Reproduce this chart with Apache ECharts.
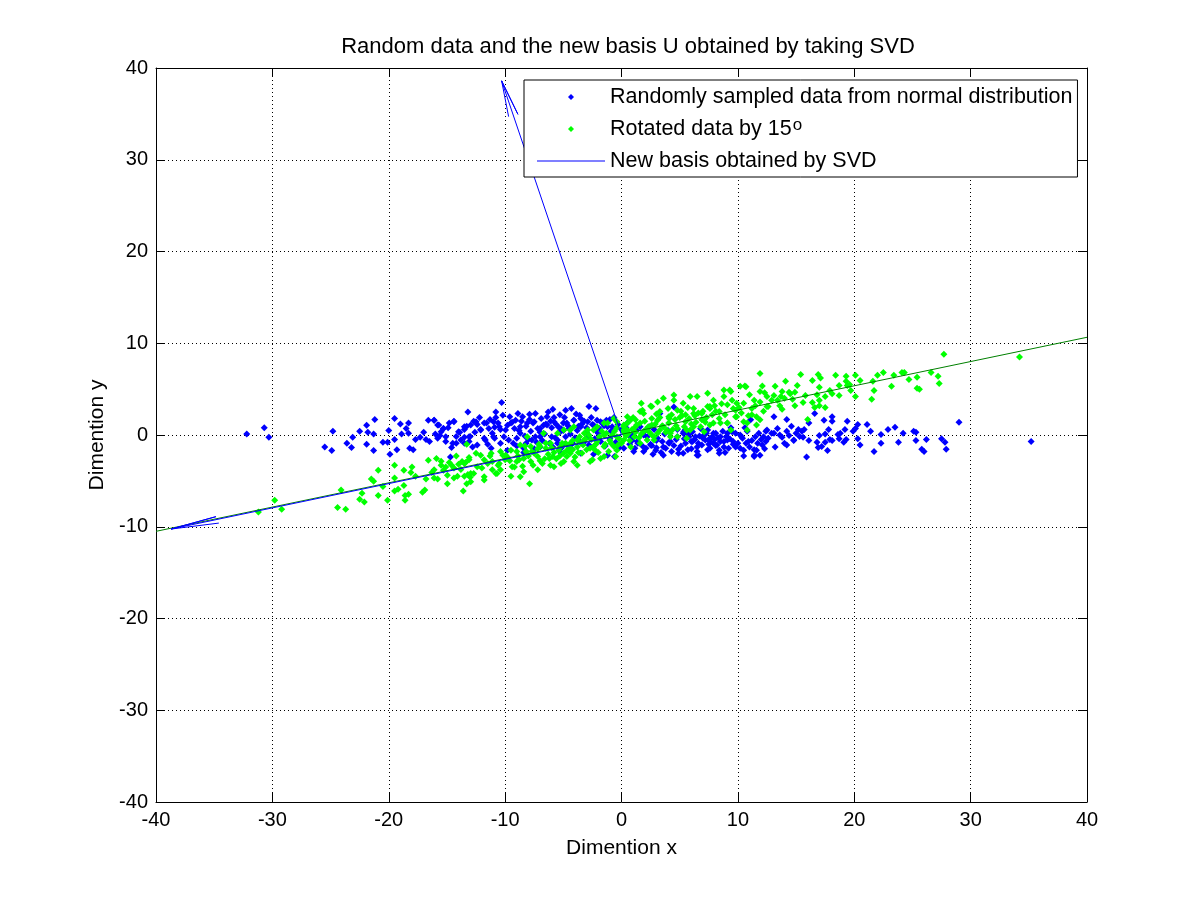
<!DOCTYPE html>
<html>
<head>
<meta charset="utf-8">
<script src="https://cdn.jsdelivr.net/npm/echarts/dist/echarts.min.js"></script>
<style>
  html, body { margin: 0; padding: 0; background: #fff; }
  #chart { width: 1201px; height: 901px; }
</style>
</head>
<body>
<div id="chart"></div>
<script>
// values
const axisTicks = [-40, -30, -20, -10, 0, 10, 20, 30, 40];

const blueData = [
  [-32.2, 0.1], [-30.7, 0.8], [-30.3, -0.25], [-25.5, -1.3], [-24.9, -1.7], [-24.8, 0.4],
  [-23.6, -0.9], [-23.2, -1.35], [-23.1, -0.25], [-22.5, 0.4], [-21.9, 1.05], [-21.8, 0.3],
  [-21.9, -1.0], [-21.3, -1.7], [-21.3, 0.1], [-21.2, 1.7], [-20.5, -0.8], [-20.1, -0.8],
  [-20.0, 0.5], [-19.9, -2.1], [-19.5, 1.8], [-19.5, -0.5], [-19.3, -1.6], [-19.0, 1.2],
  [-18.9, 0.1], [-18.5, 0.7], [-18.3, 1.3], [-18.3, 0.2], [-18.2, -1.45], [-17.9, -1.6],
  [-17.7, -0.5], [-17.3, -0.25], [-17.0, 0.3], [-16.8, -0.5], [-16.6, 1.6], [-16.5, -0.7],
  [-16.1, 1.6], [-16.0, 0.1], [-15.8, 1.1], [-15.6, -0.05], [-15.3, 0.7], [-15.1, -0.7],
  [-14.9, 0.8], [-14.7, -2.4], [-14.6, -1.35], [-14.4, 1.5], [-14.2, -0.15], [-14.2, -0.9],
  [-13.9, 0.3], [-13.5, 0.6], [-13.5, -0.25], [-13.2, 2.5], [-13.1, -0.7],
  [-10.3, 3.55], [-10.8, 2.5], [-10.2, 2.15], [-8.9, 2.35], [-8.5, 2.0], [-7.9, 2.25],
  [-7.4, 2.35], [-6.3, 2.5], [-5.8, 1.9], [-4.8, 2.7], [-4.3, 2.9], [-2.8, 3.1], [-2.2, 2.9],
  [-3.6, 2.15], [-13.3, 0.95], [-12.7, 1.5], [-12.6, 0.3], [-12.4, 1.15], [-12.1, 0.6],
  [-11.6, 1.3], [-11.3, 1.7], [-11.1, 0.2], [-10.9, 0.85], [-10.6, 1.3], [-10.4, 0.6],
  [-9.8, 1.05], [-9.4, 1.4], [-9.2, 0.7], [-8.7, 0.2], [-8.2, 0.95], [-7.6, 1.3], [-7.2, 0.7],
  [-6.7, 1.05], [-6.1, 1.5], [-5.6, 1.15], [-5.4, 0.85], [-5.0, 1.3], [-4.5, 0.7], [-4.1, 1.6],
  [-3.7, 0.95], [-3.2, 1.5], [-2.5, 1.15], [-2.1, 1.6], [-1.6, 1.3], [-1.0, 1.7], [-0.65, 1.9],
  [-0.3, 1.15], [1.0, 0.2], [1.15, -1.45], [1.4, -0.9], [2.1, -1.45], [2.6, -1.15], [3.3, 2.35],
  [3.5, -0.7], [3.8, -1.45], [4.1, -0.9], [4.5, -1.15], [4.9, -2.0], [5.3, 0.2], [5.5, 0.6],
  [5.9, 0.2], [6.0, -0.7], [6.5, -2.2], [6.6, -0.9], [7.0, -0.35], [7.4, -1.6], [7.6, -0.7],
  [7.9, 0.2], [8.1, -1.15], [8.4, -2.0], [8.8, -0.7], [9.2, -1.45], [9.6, -1.0], [9.8, 0.2],
  [10.2, -1.45], [10.5, -2.3], [10.7, -0.9], [10.8, 0.4], [11.4, -2.2], [11.4, -1.6],
  [11.9, -2.2], [12.0, -0.5], [12.4, 0.4], [12.9, 0.2], [-13.5, -0.9], [-13.0, -0.15],
  [-11.8, -0.35], [-10.9, -0.35],
  [0.2, -1.45], [1.05, -1.8], [2.7, -2.1], [2.95, -1.65], [4.05, -0.85], [4.5, 3.05],
  [4.9, -1.55], [5.3, -2.0], [5.6, 0.2], [6.1, 0.35], [6.35, -0.2], [6.6, -2.2], [7.2, -0.55],
  [7.6, -1.45], [8.2, -1.1], [8.5, -0.2], [9.1, 0.2], [9.6, -0.7], [10.4, -0.35], [10.5, -1.65],
  [11.1, 1.65], [11.4, -2.35], [11.6, -1.65], [12.2, -0.2], [12.5, 0.55],
  [5.35, 0.35], [5.8, -0.2], [6.1, -0.7], [6.8, 0.7], [7.4, 0.55], [7.8, -0.2], [8.1, 0.2],
  [8.5, -0.7], [8.8, -1.3], [9.1, -0.55], [9.5, 0.35], [7.9, -0.9],
  [-8.0, -0.5], [-7.0, 0.3], [-6.0, -0.2], [-5.0, 0.5], [-4.0, -0.3], [-3.0, 0.8], [-2.0, 0.2],
  [-1.0, -0.4], [0.0, 0.6], [1.0, -0.2], [2.0, 0.4], [3.0, -0.6], [-6.5, 1.2], [-3.5, 1.8],
  [-1.5, 1.0], [0.5, 1.3], [2.5, -1.0], [-9.0, -1.2], [-7.5, -1.5], [-5.5, -0.9],
  [-5.9, 2.8], [-3.5, -2.0], [-2.4, -2.1], [-1.2, -2.2], [-0.6, -2.35], [-5.2, -2.0],
  [-16.1, 1.6], [-15.7, 1.1], [-15.3, 0.7], [-14.8, 1.3], [-14.4, 1.45], [-14.0, 0.35],
  [-13.5, 0.9], [-12.96, 1.1], [-12.5, 1.45], [-12.1, 0.55], [-11.8, 1.3], [-11.4, 0.7],
  [-11.0, 1.45], [-10.5, 0.9], [-9.96, 0.55], [-9.5, 1.3], [-9.1, 1.6], [-8.7, 0.9],
  [-8.1, 1.3], [-7.5, 1.45], [-7.0, 0.7], [-6.4, 1.1], [-5.8, 1.45], [-5.2, 0.7], [-4.7, 1.3],
  [-4.1, 1.6], [-3.5, 0.9], [-2.9, 1.45], [-2.4, 1.1], [-1.8, 1.45], [-1.2, 0.9],
  [-15.8, -0.35], [-15.1, -0.2], [-14.5, -0.9], [-13.8, -0.55], [-13.1, -0.2], [-12.4, -1.1],
  [-11.7, -0.55], [-11.0, -0.2], [-10.4, -0.9], [-9.7, -0.55], [-9.0, -0.35], [-8.2, -0.9],
  [-7.7, -0.55], [-7.0, -0.2], [-6.2, -0.9], [-5.5, -0.55], [-4.8, -0.2], [-4.2, -0.9],
  [-3.7, -0.55], [-2.9, -0.2], [-15.5, 0.35], [-11.2, -1.45], [-9.8, -1.65], [-8.4, -1.45],
  [-7.0, -1.3], [-5.2, -1.45],
  [0.77, -0.2], [1.35, -0.7], [1.9, 0.0], [2.5, -1.1], [3.1, -0.35], [3.6, -1.3], [4.2, -0.7],
  [4.8, -0.2], [5.5, -0.9], [6.5, -1.3], [7.1, 0.0], [7.6, -0.35], [8.4, -1.65], [9.0, -0.2],
  [9.8, -1.3], [10.2, 0.0], [10.9, -0.7], [11.5, -0.2], [12.1, -1.1], [12.6, -0.35],
  [13.2, -1.3], [13.6, 0.0], [14.2, -1.1], [14.8, -0.55], [1.9, -1.8], [3.6, -2.2], [6.5, -1.8],
  [-12.8, -1.3], [-12.2, 1.9], [-11.5, -1.0], [-10.8, 1.9], [-10.1, -0.2], [-9.6, 2.0],
  [-9.3, -0.9], [-8.6, 1.5], [-8.3, -0.1], [-7.8, 0.4], [-7.3, -0.8], [-6.9, 1.8], [-6.6, 0.1],
  [-6.0, 0.8], [-5.7, -0.3], [-5.3, 2.2], [-4.9, -1.0], [-4.6, 1.0], [-4.4, 0.1], [-3.9, 2.3],
  [-3.3, -0.9], [-3.0, 0.3], [-2.6, 1.9], [-2.3, -0.4], [-1.9, 0.7], [-1.4, -1.2], [-0.9, 0.4],
  [-0.5, -0.8], [0.3, 0.1], [0.7, -1.0], [1.6, 0.9], [2.2, -0.2], [2.8, 0.6], [3.4, -1.9],
  [4.0, 0.5], [4.7, -0.5], [5.1, -1.2], [5.7, -1.6], [6.3, -0.5], [6.9, -1.1], [7.3, 0.2],
  [8.0, -0.5], [8.7, 0.4], [9.3, -0.4], [10.0, -0.9], [10.6, 0.8], [11.2, -0.6], [11.8, 0.2],
  [12.3, -1.5],
  [-8.8, 0.5], [-8.4, -1.9], [-7.9, 1.7], [-7.4, -0.2], [-6.8, -0.6], [-6.4, 2.0], [-5.9, -1.3],
  [-5.3, 0.3], [-4.9, 1.9], [-4.3, -1.5], [-3.8, 0.5], [-3.4, 1.2], [-2.8, -1.1], [-2.2, 0.5],
  [-1.8, -0.7], [-1.3, 1.6], [-0.8, 0.9], [-0.2, -1.4], [0.4, 0.8], [0.9, -0.6], [1.3, 0.5],
  [1.8, -1.2], [2.4, 0.9], [3.0, -1.4], [3.7, 0.1], [4.3, -1.8], [4.8, 0.6], [5.4, -0.4],
  [6.0, -1.5], [6.7, -0.1], [7.5, -1.0], [8.3, -0.3], [8.9, -1.9], [9.4, 0.8], [10.3, -0.2],
  [11.0, -1.3], [11.7, -0.9], [12.4, -0.7],
  [13.1, 2.0], [14.2, 1.7], [13.1, 0.2], [13.4, 0.7], [13.8, -0.25], [14.0, -0.9], [14.2, 0.4],
  [14.4, -0.05], [14.6, 0.95], [14.8, -0.6], [15.0, 0.2], [15.2, 0.6], [15.3, -0.15], [15.5, 0.4],
  [15.6, -0.25], [15.7, 0.6], [15.9, -2.4], [16.1, 1.3], [16.1, -0.6], [16.6, 2.35], [16.8, -0.8],
  [16.9, -1.35], [17.0, -0.05], [17.2, -1.25], [17.4, 1.6], [17.5, 0.1], [17.5, -0.8],
  [17.7, -1.7], [17.8, 0.6], [17.9, -0.5], [18.1, 2.0], [18.1, 1.5], [18.1, -0.6], [18.6, 0.05],
  [18.7, -0.4], [18.8, 0.2], [19.1, -0.8], [19.2, 0.6], [19.3, -0.5], [19.4, 1.5], [19.9, 0.4],
  [20.1, 0.7], [20.3, 1.15], [20.3, -0.4], [20.5, -1.1], [21.1, 1.15], [21.4, 0.4], [21.7, -1.8],
  [22.3, 0.05], [22.3, -0.9], [22.9, 0.6], [23.5, 0.85], [23.8, -0.8], [24.2, 0.2], [25.1, 0.4],
  [25.3, 0.3], [25.3, -0.6], [25.8, -1.55], [26.0, -1.8], [26.2, -0.5], [27.5, -0.4],
  [27.8, -0.8], [27.9, -1.55], [29.0, 1.4], [35.2, -0.7]
];

const greenData = [
  [-31.2, -8.4], [-29.8, -7.1], [-29.2, -8.1], [-24.4, -7.9], [-23.7, -8.1], [-24.1, -6.0],
  [-22.5, -7.0], [-22.3, -6.35], [-22.1, -7.3], [-21.5, -4.8], [-21.3, -5.05], [-20.9, -3.85],
  [-20.9, -6.6], [-20.5, -5.6], [-20.1, -7.1], [-19.5, -6.1], [-19.5, -3.3], [-19.5, -4.7],
  [-19.2, -5.9], [-18.7, -3.85], [-18.7, -5.5], [-18.6, -6.6], [-18.6, -7.1], [-18.3, -6.45],
  [-18.1, -4.1], [-18.0, -3.5], [-17.7, -4.5], [-17.1, -6.25], [-16.9, -6.0], [-16.8, -4.8],
  [-16.6, -2.75], [-16.3, -4.1], [-16.1, -4.7], [-15.9, -2.55], [-15.8, -4.8], [-15.5, -2.85],
  [-15.3, -3.85], [-15.1, -3.5], [-14.8, -3.0], [-14.6, -3.3], [-14.4, -4.7], [-14.2, -2.3],
  [-14.0, -3.2], [-13.8, -3.75], [-13.6, -6.1], [-13.5, -4.5], [-13.4, -3.0], [-13.2, -4.3],
  [-13.1, -2.45], [-13.3, -1.0],
  [-13.3, -5.3], [-13.0, -4.6], [-12.7, -4.2], [-13.5, -3.1], [-13.1, -2.7], [-12.5, -2.0],
  [-11.8, -4.55], [-11.5, -3.1], [-11.1, -2.9], [-10.8, -4.2], [-10.4, -3.8], [-10.0, -2.7],
  [-9.2, -3.5], [-8.7, -4.55], [-7.9, -5.3], [-8.4, -2.55], [-7.5, -2.0], [-6.8, -3.1],
  [-6.2, -2.55], [-5.8, -3.45], [-5.2, -3.1], [-4.7, -2.35], [-4.1, -2.9], [-3.4, -2.0],
  [-2.5, -2.7], [-1.8, -2.55], [-1.1, -1.8], [-0.5, -2.35], [-3.2, 0.2], [-2.4, 0.55],
  [-1.5, 1.3], [-0.65, 1.8], [0.2, 0.9], [0.8, 1.65], [1.8, 2.7], [2.6, 3.1], [3.6, 4.0],
  [4.5, 4.35], [5.3, 3.45], [6.2, 2.35], [6.5, 4.2], [7.4, 3.1], [7.9, 3.8], [8.8, 4.2],
  [9.3, 4.9], [9.9, 3.45], [10.7, 5.25], [11.4, 3.8], [12.1, 5.35], [12.5, 4.2], [11.6, 2.0],
  [10.8, 1.3], [9.9, 2.0], [9.1, 1.3], [7.9, 1.3], [6.8, 0.9], [5.9, 0.55], [4.8, -0.2],
  [3.9, 0.55], [3.1, 0.2], [2.2, -0.55], [1.1, -0.2], [0.2, -0.55], [-0.65, -1.25], [-1.5, -1.25],
  [-2.4, -1.25], [-3.5, -0.9], [-4.4, -0.9], [-5.2, -1.25], [-6.1, -0.9], [-7.0, -1.25],
  [-7.8, -1.25], [-8.7, -1.1], [-9.5, -1.65], [-10.4, -1.8], [-11.2, -2.0], [-12.1, -2.2],
  [-8.1, -0.2], [-6.7, 0.2], [-5.5, 0.2], [-4.4, 0.55], [-3.8, -0.55],
  [11.9, 6.7], [10.6, 5.35], [2.5, 3.15], [1.6, 2.55], [0.5, 1.3], [0.2, 0.35], [9.4, 4.75],
  [7.6, 2.9], [11.9, 4.75], [12.5, 3.1], [11.6, 1.1], [10.8, 0.55], [9.4, 0.55], [8.5, 1.3],
  [7.1, 1.65], [5.6, 0.55], [4.2, -0.2], [2.8, -0.55], [1.6, -0.9], [0.8, -1.3],
  [-7.2, -1.5], [-6.3, -2.1], [-5.1, -0.9], [-4.2, -1.6], [-3.1, -0.4], [-2.2, -1.0],
  [-1.3, 0.2], [-0.2, -0.4], [0.9, 0.6], [1.7, 0.1], [2.9, 1.2], [3.8, 0.3], [4.6, 1.7],
  [5.4, 0.9], [6.3, 2.1], [7.2, 1.4], [8.1, 2.6], [-0.4, 0.8], [0.4, -0.1], [1.3, 1.1],
  [2.3, 0.9], [3.3, 1.9], [4.3, 2.2], [5.1, 2.6], [6.0, 1.2], [-9.8, -2.4], [-9.0, -2.9],
  [-8.2, -1.8],
  [-16.1, -3.8], [-15.5, -3.3], [-14.96, -4.4], [-14.4, -3.6], [-13.7, -2.9], [-12.96, -4.2],
  [-12.4, -3.45], [-11.8, -2.7], [-11.1, -3.8], [-10.5, -3.1], [-9.96, -2.2], [-9.4, -3.45],
  [-8.8, -2.7], [-8.2, -1.8], [-7.8, -2.9], [-7.2, -2.35], [-6.5, -1.45], [-5.9, -2.35],
  [-5.4, -1.65], [-4.8, -0.9], [-4.4, -2.0], [-3.8, -1.3], [-3.2, -0.55], [-2.7, -1.45],
  [-2.1, -0.7], [-1.5, 0.0], [-0.9, -0.9], [-0.4, -0.2], [0.2, 0.55], [-4.95, 0.55],
  [-4.1, 0.9], [-2.9, 0.55], [-2.1, 0.9], [-1.2, 1.3], [-0.4, 1.45], [0.2, 1.1], [-0.4, -1.65],
  [-1.5, -2.35], [-2.7, -2.9], [-3.8, -3.3], [-4.95, -2.9], [-6.1, -3.3], [-7.2, -3.8],
  [-8.4, -4.0], [-9.5, -4.5], [-10.7, -4.2], [-11.8, -4.9], [-12.96, -5.1], [-14.1, -4.5],
  [-14.96, -5.3],
  [0.5, 2.0], [1.2, 1.65], [1.9, 2.35], [2.6, 1.8], [3.3, 2.55], [4.06, 2.0], [4.8, 2.7],
  [5.5, 2.2], [6.2, 2.9], [6.9, 2.35], [7.6, 3.1], [8.4, 2.55], [9.1, 3.3], [9.8, 2.7],
  [10.5, 3.45], [11.2, 2.9], [11.9, 3.6], [12.6, 3.1], [0.5, 0.55], [1.2, 0.9], [1.9, 0.35],
  [2.6, 1.1], [3.3, 0.55], [4.06, 1.3], [4.8, 0.7], [5.5, 1.45], [6.2, 0.9], [6.9, 1.65],
  [7.6, 1.1], [8.4, 1.8], [9.1, 1.3], [9.8, 2.0], [10.5, 1.45], [11.2, 2.2], [11.9, 1.65],
  [1.7, 3.45], [3.1, 3.6], [4.5, 3.8], [5.9, 4.2], [7.4, 4.55], [8.8, 4.9], [10.2, 5.3],
  [2.8, -0.2], [4.2, 0.2], [5.6, -0.35], [7.1, 0.35],
  [-12.0, -3.6], [-11.3, -2.3], [-10.6, -3.3], [-10.2, -2.2], [-9.6, -2.8], [-9.0, -1.8],
  [-8.5, -3.4], [-8.0, -2.3], [-7.6, -3.3], [-7.1, -1.0], [-6.6, -2.6], [-6.0, -1.4],
  [-5.6, -2.6], [-5.0, -2.0], [-4.5, -1.3], [-4.0, -2.4], [-3.6, -0.2], [-3.0, -1.6],
  [-2.6, -0.5], [-2.0, -1.9], [-1.7, 0.4], [-1.0, -0.6], [-0.6, 0.4], [0.0, -0.9], [0.6, 0.2],
  [1.0, 1.9], [1.5, -0.3], [2.0, 1.5], [2.4, 0.3], [3.0, 2.3], [3.5, 1.0], [4.0, 2.9],
  [4.4, 0.6], [5.0, 1.9], [5.7, 3.0], [6.4, 1.4], [7.0, 2.6], [7.8, 2.2], [8.6, 3.4],
  [9.6, 2.9], [10.3, 2.4], [11.0, 4.4], [12.2, 2.6],
  [-8.9, -2.3], [-8.3, -1.2], [-7.7, -1.8], [-7.0, -2.8], [-6.5, -0.9], [-5.8, -1.9],
  [-5.3, -2.3], [-4.7, -1.7], [-4.2, -0.6], [-3.7, -1.9], [-3.3, -1.1], [-2.8, 0.0],
  [-2.3, -1.6], [-1.9, -0.2], [-1.4, -1.0], [-0.8, 0.0], [-0.3, -1.1], [0.3, 0.2], [0.7, -0.6],
  [1.2, 0.3], [1.6, 1.3], [2.1, 0.6], [2.6, 0.0], [3.1, 1.6], [3.6, 0.9], [4.1, 1.8], [4.7, 1.0],
  [5.2, 2.1], [5.8, 1.8], [6.6, 2.4], [7.3, 1.9], [8.0, 3.2], [8.9, 2.2], [9.5, 3.8], [10.1, 3.0],
  [10.9, 2.1], [11.5, 3.2], [12.3, 4.6],
  [13.2, 5.3], [14.1, 5.85], [13.8, 4.75], [13.7, 4.2], [13.1, 4.3], [12.9, 3.8], [13.4, 3.8],
  [13.6, 3.2], [13.8, 2.8], [14.0, 4.0], [14.4, 4.65], [14.5, 4.5], [14.7, 3.9], [14.9, 4.65],
  [14.9, 3.2], [15.1, 5.4], [15.4, 6.6], [15.6, 3.55], [15.8, 4.3], [16.0, 1.7], [16.4, 5.95],
  [16.4, 3.55], [16.6, 3.0], [16.8, 4.4], [16.9, 6.6], [17.0, 5.2], [17.1, 6.2], [17.0, 3.8],
  [17.0, 3.2], [17.5, 4.2], [17.5, 3.0], [17.9, 4.85], [18.1, 4.5], [18.4, 6.5], [18.7, 4.3],
  [18.7, 5.4], [19.3, 6.4], [19.3, 5.85], [19.4, 5.4], [19.6, 5.5], [19.7, 4.85], [20.1, 6.5],
  [20.1, 4.2], [20.5, 5.95], [21.5, 3.9], [21.6, 5.85], [21.7, 4.85], [22.0, 6.5], [22.5, 6.8],
  [23.2, 5.3], [23.4, 6.5], [24.1, 6.8], [24.3, 6.8], [24.7, 6.05], [25.4, 6.3], [25.4, 5.1],
  [25.6, 5.0], [26.6, 6.8], [27.2, 6.4], [27.3, 5.6], [27.7, 8.8], [34.2, 8.5]
];

// rotated direction drawn across the plot
const rotatedLine = [[-40, -10.5], [40, 10.65]];

// quiver arrows of U: tail, tip, barb, tip, barb
const basisU1 = [[0, 0], [-38.7, -10.25], [-34.85, -8.9], [-38.7, -10.25], [-34.6, -9.6]];
const basisU2 = [[0, 0], [-10.3, 38.6], [-8.9, 34.95], [-10.3, 38.6], [-9.7, 34.7]];

const blueName = 'Randomly sampled data from normal distribution';
const greenName = 'Rotated data by 15°';
const basisName = 'New basis obtained by SVD';

const font = "'Liberation Sans', Arial, sans-serif";

// legend icons: the leading moves keep the icon box at itemWidth x itemHeight
const dotIcon = 'path://M0,0 M68,6 M31,3 L34,0 L37,3 L34,6 Z';
const lineIcon = 'path://M0,0 M68,6 M0,2.5 L68,2.5 L68,3.5 L0,3.5 Z';

const chart = echarts.init(document.getElementById('chart'));

function axis(position, showLabel, showGrid) {
  return {
    type: 'value',
    position: position,
    min: axisTicks[0],
    max: axisTicks[axisTicks.length - 1],
    interval: 10,
    axisLine: { show: true, onZero: false, lineStyle: { color: '#000', width: 1 } },
    axisTick: { show: true, inside: true, length: 9, lineStyle: { color: '#000' } },
    axisLabel: { show: showLabel, color: '#000', fontSize: 20, fontFamily: font, margin: 8 },
    splitLine: { show: showGrid, lineStyle: { color: '#000', width: 1, type: [1, 3] } }
  };
}

const option = {
  animation: false,
  backgroundColor: '#fff',
  title: {
    text: 'Random data and the new basis U obtained by taking SVD',
    left: 623,
    textAlign: 'center',
    top: 31,
    textStyle: { color: '#000', fontSize: 22, fontWeight: 'normal', fontFamily: font }
  },
  grid: { left: 156, right: 114, top: 68, bottom: 99 },
  xAxis: [
    Object.assign(axis('bottom', true, true), {
      name: 'Dimention x', nameLocation: 'middle', nameGap: 36,
      nameTextStyle: { color: '#000', fontSize: 21, fontFamily: font }
    }),
    axis('top', false, false)
  ],
  yAxis: [
    Object.assign(axis('left', true, true), {
      name: 'Dimention y', nameLocation: 'middle', nameGap: 46,
      nameTextStyle: { color: '#000', fontSize: 21, fontFamily: font }
    }),
    axis('right', false, false)
  ],
  legend: {
    left: 524,
    top: 80,
    orient: 'vertical',
    backgroundColor: '#fff',
    borderColor: '#000',
    borderWidth: 1,
    borderRadius: 0,
    padding: [5, 5, 4, 13],
    itemWidth: 68,
    itemHeight: 6,
    itemGap: 8,
    selectedMode: false,
    data: [
      { name: blueName, icon: dotIcon },
      { name: greenName, icon: dotIcon },
      { name: basisName, icon: lineIcon }
    ],
    formatter: function (name) {
      if (name === greenName) return 'Rotated data by 15{sup|o}';
      return name;
    },
    textStyle: {
      color: '#000', fontSize: 21.5, fontFamily: font, lineHeight: 24,
      rich: { sup: { fontSize: 17, fontFamily: font, verticalAlign: 'top', lineHeight: 24, padding: [0, 0, 4, 1] } }
    }
  },
  series: [
    {
      name: blueName, type: 'scatter', data: blueData,
      symbol: 'diamond', symbolSize: 7, itemStyle: { color: '#0000ff', opacity: 1 }
    },
    {
      name: greenName, type: 'scatter', data: greenData,
      symbol: 'diamond', symbolSize: 7, itemStyle: { color: '#00ff00', opacity: 1 }
    },
    {
      name: 'rotated direction', type: 'line', data: rotatedLine,
      symbol: 'none', lineStyle: { color: '#008000', width: 1 }
    },
    {
      name: basisName, type: 'line', data: basisU1,
      symbol: 'none', color: '#0000ff', lineStyle: { color: '#0000ff', width: 1 }
    },
    {
      name: basisName, type: 'line', data: basisU2,
      symbol: 'none', color: '#0000ff', lineStyle: { color: '#0000ff', width: 1 }
    }
  ]
};

chart.setOption(option);
</script>
</body>
</html>
